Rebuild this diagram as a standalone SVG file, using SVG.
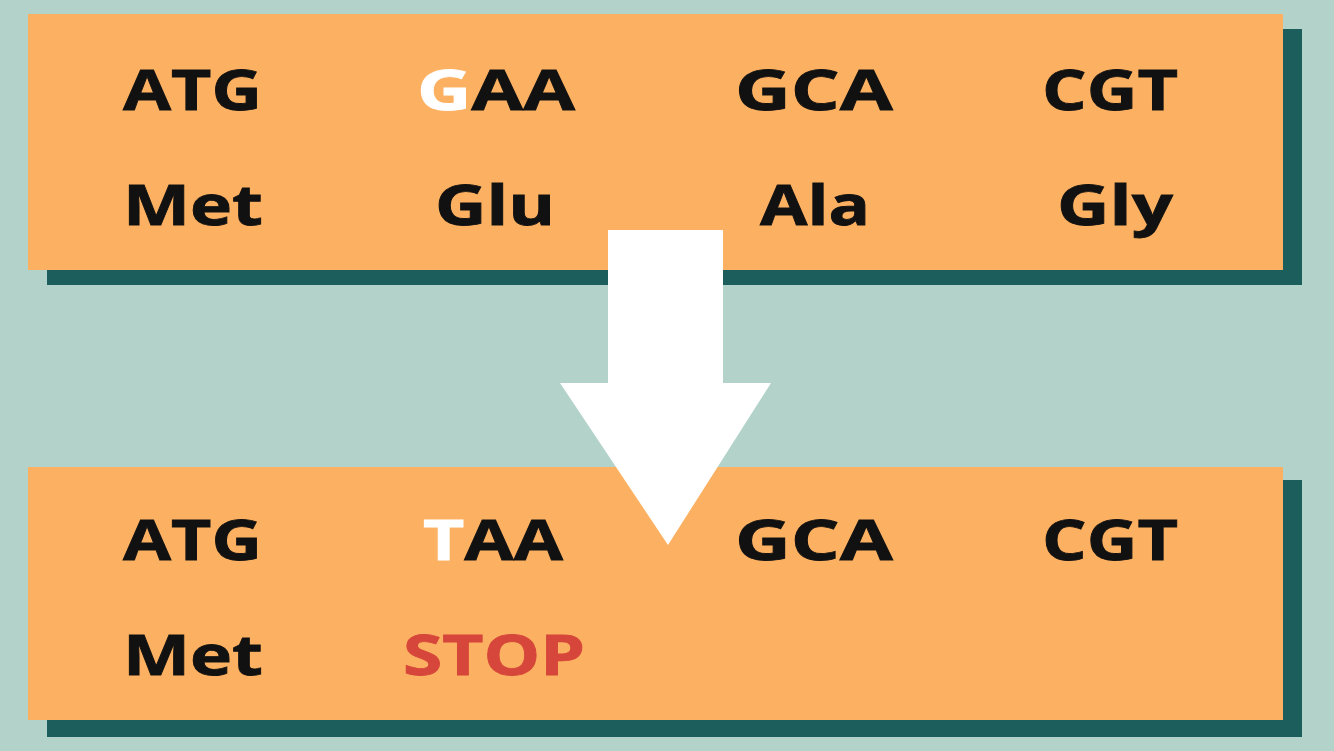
<svg xmlns="http://www.w3.org/2000/svg" width="1334" height="751" viewBox="0 0 1334 751">
<style>
.bg{fill:#b2d2ca}
.box{fill:#fcb061}
.shadow{fill:#1c5e5b}
.t{font-family:"Open Sans","Noto Sans","Liberation Sans",sans-serif;font-weight:700;font-size:55px;fill:#111;stroke:#111;stroke-width:0.8px}
.w{fill:#ffffff;stroke:#ffffff}
.stop{fill:#d6463a;stroke:#d6463a}
.arrow{fill:#ffffff}
</style>
<rect class="bg" x="0" y="0" width="1334" height="751"/>
<g id="box-original">
<rect class="shadow" x="47" y="29" width="1255" height="256"/>
<rect class="box" x="28" y="14" width="1255" height="256"/>
<text class="t" x="123" y="110" textLength="139" lengthAdjust="spacingAndGlyphs">ATG</text>
<text class="t" x="417" y="110" textLength="158" lengthAdjust="spacingAndGlyphs"><tspan class="w">G</tspan>AA</text>
<text class="t" x="735" y="110" textLength="158" lengthAdjust="spacingAndGlyphs">GCA</text>
<text class="t" x="1042" y="110" textLength="136" lengthAdjust="spacingAndGlyphs">CGT</text>
<text class="t" x="123" y="225" textLength="140" lengthAdjust="spacingAndGlyphs">Met</text>
<text class="t" x="435" y="225" textLength="120" lengthAdjust="spacingAndGlyphs">Glu</text>
<text class="t" x="760" y="225" textLength="110" lengthAdjust="spacingAndGlyphs">Ala</text>
<text class="t" x="1057" y="225" textLength="116" lengthAdjust="spacingAndGlyphs">Gly</text>
</g>
<g id="box-mutant">
<rect class="shadow" x="47" y="480" width="1255" height="257"/>
<rect class="box" x="28" y="467" width="1255" height="253"/>
<text class="t" x="123" y="560" textLength="139" lengthAdjust="spacingAndGlyphs">ATG</text>
<text class="t" x="423" y="560" textLength="140" lengthAdjust="spacingAndGlyphs"><tspan class="w">T</tspan>AA</text>
<text class="t" x="735" y="560" textLength="158" lengthAdjust="spacingAndGlyphs">GCA</text>
<text class="t" x="1042" y="560" textLength="136" lengthAdjust="spacingAndGlyphs">CGT</text>
<text class="t" x="123" y="675" textLength="140" lengthAdjust="spacingAndGlyphs">Met</text>
<text class="t stop" x="403" y="675" textLength="182" lengthAdjust="spacingAndGlyphs">STOP</text>
</g>
<g id="connectors">
<polygon class="arrow" points="608,230 723,230 723,383 771,383 668,545 560,383 608,383"/>
</g>
</svg>
